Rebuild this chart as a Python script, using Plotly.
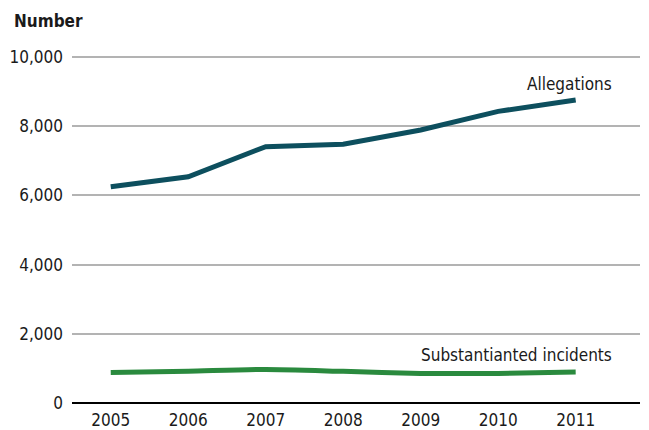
import plotly.graph_objects as go

years = [2005, 2006, 2007, 2008, 2009, 2010, 2011]
allegations = [6250, 6540, 7410, 7480, 7890, 8430, 8760]
substantiated = [885, 920, 970, 915, 855, 855, 895]
y_ticks = [0, 2000, 4000, 6000, 8000, 10000]
y_tick_labels = ["0", "2,000", "4,000", "6,000", "8,000", "10,000"]

FONT = "DejaVu Sans Condensed, Liberation Sans Narrow, Roboto, sans-serif"

fig = go.Figure()
fig.add_trace(go.Scatter(x=years, y=allegations, mode="lines",
                         line=dict(color="#0d4f5e", width=5), showlegend=False))
fig.add_trace(go.Scatter(x=years, y=substantiated, mode="lines",
                         line=dict(color="#2a8a3e", width=5, shape="spline", smoothing=0.6),
                         showlegend=False))

fig.add_annotation(x=2011.5, y=allegations[-1], xref="x", yref="y",
                   text="Allegations", showarrow=False, xanchor="right", yanchor="bottom",
                   yshift=4, font=dict(family=FONT, size=17, color="#1a1a1a"))
fig.add_annotation(x=2011.5, y=substantiated[-1], xref="x", yref="y",
                   text="Substantianted incidents", showarrow=False, xanchor="right",
                   yanchor="bottom", yshift=5, font=dict(family=FONT, size=17, color="#1a1a1a"))
fig.add_annotation(x=-0.106, y=1, xref="paper", yref="paper", text="<b>Number</b>",
                   showarrow=False, xanchor="left", yanchor="bottom", yshift=23,
                   font=dict(family=FONT, size=17, color="#1a1a1a"))

fig.update_layout(
    width=649, height=430,
    margin=dict(l=64, r=17, t=48, b=35),
    paper_bgcolor="white", plot_bgcolor="white",
    font=dict(family=FONT, size=17, color="#1a1a1a"),
    xaxis=dict(range=[2004.5, 2011.83], tickmode="array", tickvals=years,
               showgrid=False, zeroline=False, showline=False, ticks="",
               fixedrange=True, automargin=False, ticklabelstandoff=5),
    yaxis=dict(range=[0, 10030], tickmode="array", tickvals=y_ticks,
               ticktext=y_tick_labels, showgrid=True, gridcolor="#b3b3b3",
               gridwidth=1.5, zeroline=True, zerolinecolor="#000000",
               zerolinewidth=2, showline=False, ticks="", ticklabelstandoff=8,
               automargin=False),
)

fig.write_html("out.html")
